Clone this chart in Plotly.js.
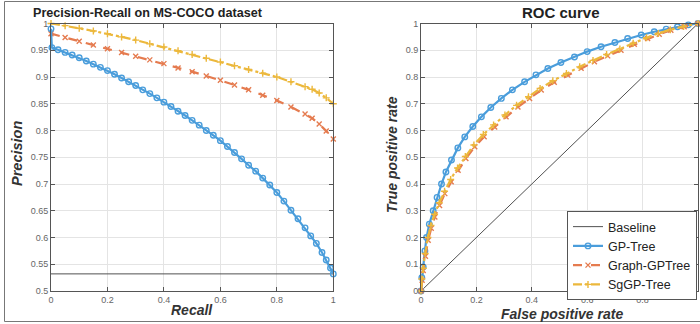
<!DOCTYPE html>
<html>
<head>
<meta charset="utf-8">
<script src="https://cdn.plot.ly/plotly-3.0.1.min.js"></script>
<style>html,body{margin:0;padding:0;background:#fff;}#chart{width:700px;height:324px;}</style>
</head>
<body>
<div id="chart"></div>
<script>
// ---------- Precision-Recall data ----------
const prBlueRecall = [0, 0.003, 0.025, 0.05, 0.075, 0.1, 0.125, 0.15, 0.175, 0.2, 0.225, 0.25, 0.275, 0.3, 0.325, 0.35, 0.375, 0.4, 0.425, 0.45, 0.475, 0.5, 0.525, 0.55, 0.575, 0.6, 0.625, 0.65, 0.675, 0.7, 0.725, 0.75, 0.775, 0.8, 0.825, 0.85, 0.875, 0.9, 0.92, 0.94, 0.96, 0.975, 0.99, 1.0];
const prBluePrecision = [0.99, 0.955, 0.951, 0.946, 0.941, 0.936, 0.930, 0.924, 0.918, 0.912, 0.905, 0.898, 0.891, 0.884, 0.876, 0.869, 0.861, 0.853, 0.845, 0.836, 0.828, 0.819, 0.810, 0.800, 0.791, 0.781, 0.770, 0.759, 0.747, 0.735, 0.724, 0.711, 0.698, 0.684, 0.668, 0.651, 0.635, 0.618, 0.603, 0.589, 0.572, 0.558, 0.543, 0.532];

const prRedRecall = [0, 0.05, 0.1, 0.15, 0.2, 0.25, 0.3, 0.35, 0.4, 0.45, 0.5, 0.55, 0.6, 0.65, 0.7, 0.75, 0.8, 0.85, 0.9, 0.925, 0.95, 0.975, 1.0];
const prRedPrecision = [0.981, 0.974, 0.967, 0.960, 0.953, 0.946, 0.939, 0.932, 0.925, 0.917, 0.910, 0.902, 0.894, 0.885, 0.876, 0.866, 0.856, 0.844, 0.831, 0.823, 0.812, 0.799, 0.784];

const prYellowRecall = [0, 0.05, 0.1, 0.15, 0.2, 0.25, 0.3, 0.35, 0.4, 0.45, 0.5, 0.55, 0.6, 0.65, 0.7, 0.75, 0.8, 0.85, 0.9, 0.925, 0.95, 0.975, 1.0];
const prYellowPrecision = [1.0, 0.996, 0.991, 0.986, 0.981, 0.975, 0.969, 0.962, 0.956, 0.949, 0.942, 0.935, 0.928, 0.921, 0.914, 0.907, 0.900, 0.891, 0.882, 0.877, 0.870, 0.861, 0.850];

const prBaselineRecall = [0, 1];
const prBaselinePrecision = [0.532, 0.532];

// ---------- ROC data ----------
const rocBaselineFpr = [0, 1];
const rocBaselineTpr = [0, 1];

const rocBlueFpr = [0, 0.003, 0.008, 0.014, 0.02, 0.03, 0.044, 0.058, 0.074, 0.09, 0.11, 0.133, 0.158, 0.187, 0.218, 0.252, 0.29, 0.33, 0.374, 0.415, 0.458, 0.505, 0.554, 0.6, 0.65, 0.7, 0.746, 0.795, 0.842, 0.885, 0.926, 0.965, 1];
const rocBlueTpr = [0, 0.05, 0.09, 0.15, 0.2, 0.25, 0.3, 0.35, 0.4, 0.445, 0.49, 0.535, 0.576, 0.615, 0.651, 0.686, 0.72, 0.752, 0.782, 0.808, 0.832, 0.854, 0.875, 0.895, 0.913, 0.929, 0.944, 0.957, 0.969, 0.979, 0.988, 0.995, 1];

const rocRedFpr = [0, 0.004, 0.008, 0.016, 0.026, 0.037, 0.05, 0.067, 0.086, 0.109, 0.134, 0.162, 0.194, 0.228, 0.266, 0.307, 0.35, 0.392, 0.434, 0.481, 0.53, 0.578, 0.626, 0.674, 0.722, 0.77, 0.818, 0.86, 0.902, 0.95, 1];
const rocRedTpr = [0, 0.04, 0.077, 0.13, 0.19, 0.235, 0.277, 0.32, 0.364, 0.408, 0.451, 0.495, 0.539, 0.577, 0.613, 0.651, 0.688, 0.72, 0.751, 0.78, 0.807, 0.833, 0.857, 0.879, 0.9, 0.922, 0.944, 0.96, 0.975, 0.988, 1];

const rocYellowFpr = [0, 0.003, 0.008, 0.015, 0.025, 0.036, 0.049, 0.066, 0.085, 0.107, 0.132, 0.16, 0.191, 0.225, 0.262, 0.303, 0.345, 0.388, 0.43, 0.476, 0.525, 0.573, 0.621, 0.67, 0.718, 0.766, 0.814, 0.857, 0.9, 0.948, 1];
const rocYellowTpr = [0, 0.045, 0.085, 0.14, 0.2, 0.245, 0.287, 0.33, 0.373, 0.417, 0.46, 0.503, 0.546, 0.585, 0.621, 0.658, 0.694, 0.726, 0.757, 0.786, 0.813, 0.838, 0.862, 0.884, 0.905, 0.926, 0.947, 0.963, 0.977, 0.989, 1];

const seriesNames = ['Baseline', 'GP-Tree', 'Graph-GPTree', 'SgGP-Tree'];
const prTickVals = [0.5, 0.55, 0.6, 0.65, 0.7, 0.75, 0.8, 0.85, 0.9, 0.95, 1];
const prXTickVals = [0, 0.2, 0.4, 0.6, 0.8, 1];
const rocYTickVals = [0, 0.1, 0.2, 0.3, 0.4, 0.5, 0.6, 0.7, 0.8, 0.9, 1];
const rocXTickVals = [0, 0.2, 0.4, 0.6, 0.8];

// ---------- styles ----------
const FONT = 'Arial, "Liberation Sans", sans-serif';
const BLUE = '#4a9ddb';
const RED = '#e57b4f';
const YEL = '#ecb83c';
const GRAY = '#555555';

function blueTrace(x, y, xa, ya, show) {
  return {x: x, y: y, xaxis: xa, yaxis: ya, type: 'scatter', mode: 'lines+markers', name: seriesNames[1],
    showlegend: show, cliponaxis: false,
    line: {color: BLUE, width: 2.2},
    marker: {symbol: 'circle-open', size: 5.5, color: BLUE, line: {color: BLUE, width: 1.4}}};
}
function redTrace(x, y, xa, ya, show) {
  return {x: x, y: y, xaxis: xa, yaxis: ya, type: 'scatter', mode: 'lines+markers', name: seriesNames[2],
    showlegend: show, cliponaxis: false,
    line: {color: RED, width: 2.2, dash: 'dash'},
    marker: {symbol: 'x-thin-open', size: 5, color: RED, line: {color: RED, width: 1.4}}};
}
function yelTrace(x, y, xa, ya, show) {
  return {x: x, y: y, xaxis: xa, yaxis: ya, type: 'scatter', mode: 'lines+markers', name: seriesNames[3],
    showlegend: show, cliponaxis: false,
    line: {color: YEL, width: 2.2, dash: 'dashdot'},
    marker: {symbol: 'cross-thin-open', size: 5, color: YEL, line: {color: YEL, width: 1.4}}};
}

const traces = [
  {x: prBaselineRecall, y: prBaselinePrecision, xaxis: 'x', yaxis: 'y', type: 'scatter', mode: 'lines',
   name: seriesNames[0], showlegend: false, line: {color: '#505050', width: 1}},
  yelTrace(prYellowRecall, prYellowPrecision, 'x', 'y', false),
  redTrace(prRedRecall, prRedPrecision, 'x', 'y', false),
  blueTrace(prBlueRecall, prBluePrecision, 'x', 'y', false),

  {x: rocBaselineFpr, y: rocBaselineTpr, xaxis: 'x2', yaxis: 'y2', type: 'scatter', mode: 'lines',
   name: seriesNames[0], showlegend: true, line: {color: '#505050', width: 1}},
  blueTrace(rocBlueFpr, rocBlueTpr, 'x2', 'y2', true),
  redTrace(rocRedFpr, rocRedTpr, 'x2', 'y2', true),
  yelTrace(rocYellowFpr, rocYellowTpr, 'x2', 'y2', true)
];

function axis(domain, range, tickvals, anchor) {
  return {domain: domain, range: range, tickvals: tickvals, anchor: anchor,
    showline: true, mirror: 'ticks', linecolor: GRAY, linewidth: 1,
    ticks: 'inside', ticklen: 4, tickcolor: GRAY, tickwidth: 1,
    showgrid: true, gridcolor: '#e4e4e4', gridwidth: 1, zeroline: false,
    tickfont: {family: FONT, size: 9, color: '#666'}, fixedrange: true};
}

const W = 700, H = 324;
const px = v => v / W;
const py = v => 1 - v / H;

const layout = {
  width: W, height: H,
  margin: {l: 0, r: 0, t: 0, b: 0, autoexpand: false},
  paper_bgcolor: '#fff', plot_bgcolor: '#fff',
  font: {family: FONT},
  xaxis: axis([px(51), px(333.3)], [0, 1], prXTickVals, 'y'),
  yaxis: axis([py(291), py(23.5)], [0.5, 1], prTickVals, 'x'),
  xaxis2: axis([px(421), px(698)], [0, 1], rocXTickVals, 'y2'),
  yaxis2: axis([py(291), py(23.5)], [0, 1], rocYTickVals, 'x2'),
  showlegend: true,
  legend: {x: px(567), y: py(211), xanchor: 'left', yanchor: 'top',
    bgcolor: '#fff', bordercolor: GRAY, borderwidth: 1,
    font: {family: FONT, size: 12.5, color: '#222'}, traceorder: 'normal'},
  annotations: [
    {text: '<b>Precision-Recall on MS-COCO dataset</b>', xref: 'paper', yref: 'paper', x: px(148), y: py(13),
     showarrow: false, xanchor: 'center', yanchor: 'middle', font: {family: FONT, size: 12.6, color: '#222'}},
    {text: '<b>ROC curve</b>', xref: 'paper', yref: 'paper', x: px(561), y: py(12.5),
     showarrow: false, xanchor: 'center', yanchor: 'middle', font: {family: FONT, size: 15, color: '#222'}},
    {text: '<b><i>Recall</i></b>', xref: 'paper', yref: 'paper', x: px(192), y: py(310),
     showarrow: false, xanchor: 'center', yanchor: 'middle', font: {family: FONT, size: 14, color: '#333'}},
    {text: '<b><i>False positive rate</i></b>', xref: 'paper', yref: 'paper', x: px(562), y: py(314),
     showarrow: false, xanchor: 'center', yanchor: 'middle', font: {family: FONT, size: 14, color: '#333'}},
    {text: '<b><i>Precision</i></b>', xref: 'paper', yref: 'paper', x: px(17), y: py(154), textangle: -90,
     showarrow: false, xanchor: 'center', yanchor: 'middle', font: {family: FONT, size: 14.5, color: '#333'}},
    {text: '<b><i>True positive rate</i></b>', xref: 'paper', yref: 'paper', x: px(392), y: py(155), textangle: -90,
     showarrow: false, xanchor: 'center', yanchor: 'middle', font: {family: FONT, size: 14, color: '#333'}}
  ],
  shapes: [
    {type: 'rect', xref: 'paper', yref: 'paper', x0: px(4.5), x1: px(706), y0: py(321.5), y1: py(1.5),
     line: {color: '#777', width: 1}, fillcolor: 'rgba(0,0,0,0)', layer: 'below'}
  ]
};

Plotly.newPlot('chart', traces, layout, {displayModeBar: false, staticPlot: true});
</script>
</body>
</html>
